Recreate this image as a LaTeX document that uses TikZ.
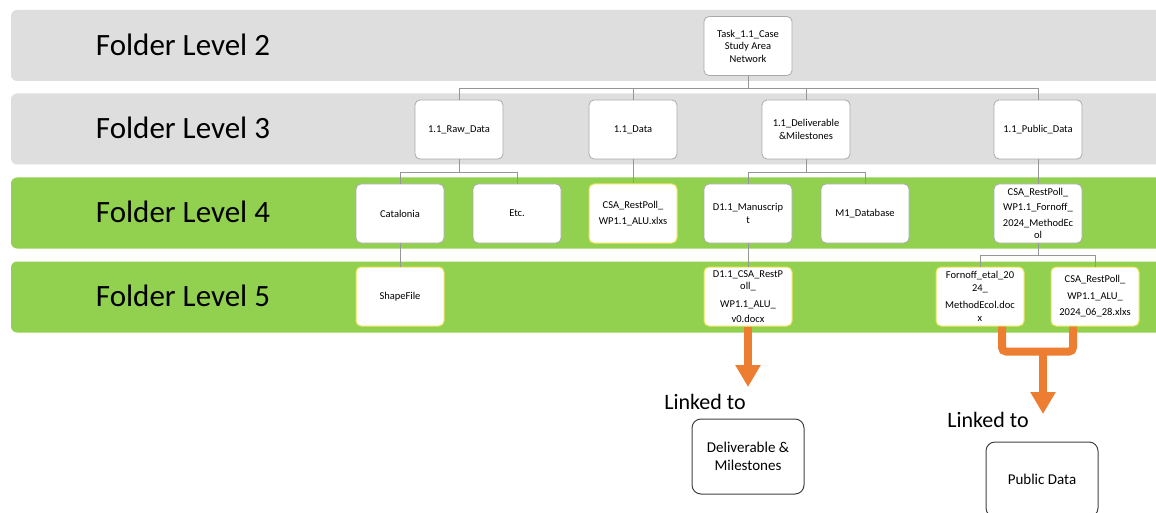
\documentclass[tikz,border=0pt]{standalone}
\usepackage{fontspec}
\setmainfont{Carlito}
\usetikzlibrary{arrows.meta, calc}
\definecolor{bandgray}{RGB}{222,222,222}
\definecolor{bandgreen}{RGB}{146,208,80}
\definecolor{boxgray}{RGB}{170,170,170}
\definecolor{boxyellow}{RGB}{238,226,90}
\definecolor{linkorange}{RGB}{237,125,49}
\definecolor{connline}{RGB}{150,150,150}
\tikzset{
    fbox/.style={draw=boxgray, line width=0.8pt, fill=white, rounded corners=5pt, minimum width=88pt, minimum height=59pt, inner sep=1pt, align=center, font=\fontsize{10.5}{12.5}\selectfont},
    ybox/.style={fbox, draw=boxyellow, line width=1pt},
    conn/.style={draw=connline, line width=0.8pt},
    linkline/.style={draw=linkorange, line width=8pt},
    linkarrow/.style={linkline, -{Triangle[width=24pt,length=22pt]}},
    lvltext/.style={font=\fontsize{31}{35}\selectfont},
    linktext/.style={font=\fontsize{22}{26}\selectfont},
    target/.style={draw=black!75, line width=1pt, rounded corners=9pt, minimum width=112pt, minimum height=75pt, align=center, font=\fontsize{15}{18}\selectfont}
}

\begin{document}
\begin{tikzpicture}[x=1pt, y=-1pt]
        \path[use as bounding box, clip] (0,0) rectangle (1156,513);
        \foreach \y/\c/\n in {45.5/bandgray/2, 129/bandgray/3, 213/bandgreen/4, 297/bandgreen/5} {
            \fill[\c, rounded corners=6pt] (11,\y-35.5) rectangle (1180,\y+35.5);
            \node[lvltext] (lvl\n) at (183,\y-1) {Folder Level \n};
        }

        \node[fbox] (task) at (748,46) {Task\_1.1\_Case\\Study Area\\Network};

        \node[fbox] (raw) at (459,129.5) {1.1\_Raw\_Data};
        \node[fbox] (data) at (633,129.5) {1.1\_Data};
        \node[fbox] (deliv) at (806,129.5) {1.1\_Deliverable\\\&Milestones};
        \node[fbox] (pub) at (1038,129.5) {1.1\_Public\_Data};

        \node[fbox] (cat) at (400,213.5) {Catalonia};
        \node[fbox] (etc) at (517,213.5) {Etc.};
        \node[ybox] (csax) at (633,213.5) {CSA\_RestPoll\_\\[3pt]WP1.1\_ALU.xlxs};
        \node[fbox] (manu) at (748,213.5) {D1.1\_Manuscrip\\t};
        \node[fbox] (mdb) at (865,213.5) {M1\_Database};
        \node[fbox] (fold) at (1038,213.5) {CSA\_RestPoll\_\\[3pt]WP1.1\_Fornoff\_\\[3pt]2024\_MethodEc\\ol};

        \node[ybox] (shp) at (400,296.5) {ShapeFile};
        \node[ybox] (dcsa) at (748,296.5) {D1.1\_CSA\_RestP\\oll\_\\[5pt]WP1.1\_ALU\_\\[3pt]v0.docx};
        \node[ybox] (fdoc) at (980,296.5) {Fornoff\_etal\_20\\24\_\\[5pt]MethodEcol.doc\\x};
        \node[ybox] (cxl) at (1095,296.5) {CSA\_RestPoll\_\\[4pt]WP1.1\_ALU\_\\[4pt]2024\_06\_28.xlxs};

        \draw[conn] (task.south) -- ++(0,13) coordinate (b3);
        \foreach \n in {raw,data,deliv,pub} {
            \draw[conn] (b3) -| (\n.north);
        }
        \draw[conn] (raw.south) -- ++(0,13) coordinate (b4a);
        \foreach \n in {cat,etc} {
            \draw[conn] (b4a) -| (\n.north);
        }
        \draw[conn] (data.south) -- (csax.north);
        \draw[conn] (deliv.south) -- ++(0,13) coordinate (b4b);
        \foreach \n in {manu,mdb} {
            \draw[conn] (b4b) -| (\n.north);
        }
        \draw[conn] (pub.south) -- (fold.north);
        \draw[conn] (cat.south) -- (shp.north);
        \draw[conn] (manu.south) -- (dcsa.north);
        \draw[conn] (fold.south) -- ++(0,12) coordinate (b5);
        \foreach \n in {fdoc,cxl} {
            \draw[conn] (b5) -| (\n.north);
        }

        \node[linktext] (lk1) at (705,402) {Linked to};
        \node[target] (dm) at (748,456.5) {Deliverable \&\\Milestones};
        \node[linktext] (lk2) at (988,420) {Linked to};
        \node[target] (pd) at (1042,479.5) {Public Data};

        \coordinate (tip1) at (748,387);
        \coordinate (tip2) at (1043,414);
        \draw[linkarrow] (dcsa.south) -- (tip1);
        \draw[linkline, rounded corners=4pt] ($(fdoc.south)+(22,0)$) |- ($(cxl.south)+(-22,25)$) -- ($(cxl.south)+(-22,0)$);
        \coordinate (jn) at ($(fdoc.south)+(63,25)$);
        \draw[linkarrow] (jn) -- (tip2);
    \end{tikzpicture}
\end{document}
